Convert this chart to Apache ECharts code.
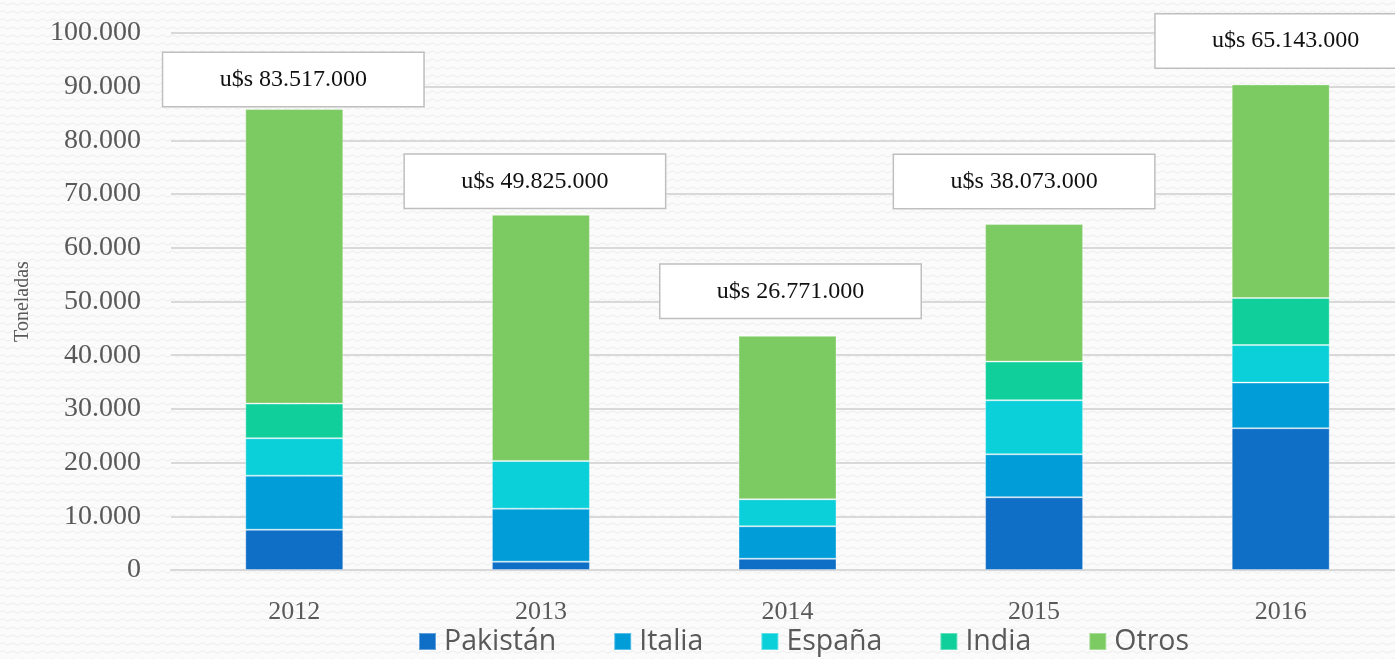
<!DOCTYPE html>
<html>
<head>
<meta charset="utf-8">
<script src="https://cdn.jsdelivr.net/npm/echarts@6/dist/echarts.min.js"></script>
<style>
  html, body { margin: 0; padding: 0; }
  body {
    width: 1395px; height: 659px; overflow: hidden;
    background-color: #fbfbfb;
    background-image: url("data:image/svg+xml;utf8,<svg xmlns='http://www.w3.org/2000/svg' width='10' height='8'><path d='M0 4 Q2.5 1.5 5 4 T10 4' stroke='%23ebebeb' stroke-width='1' fill='none'/></svg>");
  }
  #chart { width: 1420px; height: 659px; }
</style>
</head>
<body>
<div id="chart"></div>
<script>
// datos (toneladas)
const years = ['2012', '2013', '2014', '2015', '2016'];
const pakistan = [7500, 1550, 2100, 13550, 26400];
const italia = [10070, 9870, 6040, 8000, 8500];
const espana = [6970, 8890, 5030, 10060, 7000];
const india = [6450, 0, 0, 7200, 8750];
const otros = [54840, 45840, 30430, 25600, 39770];
const usdLabels = ['u$s 83.517.000', 'u$s 49.825.000', 'u$s 26.771.000', 'u$s 38.073.000', 'u$s 65.143.000'];

// desplazamiento de las cajas de texto [dx, dy]
const labelShift = [[-1, -3], [-6, -7], [3, -18], [-10, -16], [5, -17]];

const colors = ['#0f6fc6', '#009dd9', '#0bd0d9', '#10cf9b', '#7cca62'];
const serif = '"Liberation Serif", "DejaVu Serif", serif';

function fmt(v) {
  return String(v).replace(/\B(?=(\d{3})+(?!\d))/g, '.');
}

function barSeries(name, data, idx) {
  return {
    name: name,
    type: 'bar',
    stack: 'total',
    barWidth: 98,
    data: data,
    itemStyle: { color: colors[idx], borderColor: 'rgba(255,255,255,0.35)', borderWidth: 1 }
  };
}

const chart = echarts.init(document.getElementById('chart'));

const series = [
  barSeries('Pakistán', pakistan, 0),
  barSeries('Italia', italia, 1),
  barSeries('España', espana, 2),
  barSeries('India', india, 3),
  barSeries('Otros', otros, 4)
];

series[4].data = otros.map((v, i) => ({
  value: v,
  label: { offset: labelShift[i] }
}));
series[4].label = {
  show: true,
  position: 'top',
  distance: 0,
  formatter: p => usdLabels[p.dataIndex],
  width: 260,
  height: 53,
  lineHeight: 53,
  align: 'center',
  backgroundColor: '#ffffff',
  borderColor: '#bfbfbf',
  borderWidth: 1.5,
  color: '#111111',
  fontFamily: serif,
  fontSize: 24
};

chart.setOption({
  animation: false,
  grid: { left: 171, top: 33, width: 1233, height: 537 },
  legend: {
    data: ['Pakistán', 'Italia', 'España', 'India', 'Otros'],
    left: 418,
    top: 625,
    icon: 'rect',
    itemWidth: 17,
    itemHeight: 17,
    itemGap: 57,
    padding: 0,
    textStyle: {
      color: '#595959',
      fontFamily: '"Open Sans", "Liberation Sans", sans-serif',
      fontSize: 28.5,
      lineHeight: 33,
      padding: [0, 0, 0, 3]
    }
  },
  xAxis: {
    type: 'category',
    data: years,
    axisLine: { show: true, lineStyle: { color: '#d9d9d9', width: 2 } },
    axisTick: { show: false },
    axisLabel: { color: '#595959', fontFamily: serif, fontSize: 26, margin: 29 }
  },
  yAxis: {
    type: 'value',
    min: 0,
    max: 100000,
    interval: 10000,
    name: 'Toneladas',
    nameLocation: 'middle',
    nameRotate: 90,
    nameGap: 138,
    nameTextStyle: { color: '#595959', fontFamily: serif, fontSize: 20 },
    axisLine: { show: false },
    axisTick: { show: false },
    splitLine: { lineStyle: { color: '#d9d9d9', width: 2 } },
    axisLabel: {
      color: '#595959',
      fontFamily: serif,
      fontSize: 28,
      margin: 30,
      formatter: v => fmt(v)
    }
  },
  series: series
});
</script>
</body>
</html>
